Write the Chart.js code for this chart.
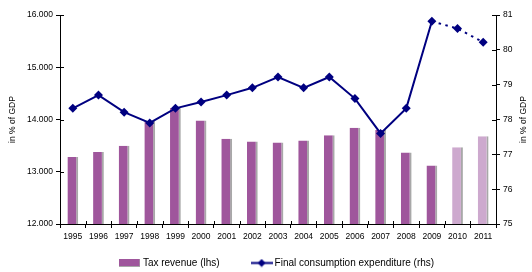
<!DOCTYPE html>
<html>
<head>
<meta charset="utf-8">
<script src="https://cdn.jsdelivr.net/npm/chart.js@4/dist/chart.umd.min.js"></script>
<style>
  html, body { margin: 0; padding: 0; background: #fff; }
  #wrap { width: 532px; height: 272px; position: relative; }
</style>
</head>
<body>
<div id="wrap"><canvas id="c" width="532" height="272"></canvas></div>
<script>
// ---- data ----
const years = ['1995','1996','1997','1998','1999','2000','2001','2002','2003','2004','2005','2006','2007','2008','2009','2010','2011'];
const taxRevenue = [13.28, 13.38, 13.50, 13.97, 14.22, 13.98, 13.63, 13.58, 13.56, 13.60, 13.70, 13.84, 13.80, 13.37, 13.12, 13.47, 13.68];
const consumptionExpenditure = [78.32, 78.70, 78.21, 77.90, 78.32, 78.50, 78.70, 78.91, 79.22, 78.91, 79.22, 78.60, 77.60, 78.32, 80.82, 80.61, 80.22];
const leftTicks = [12, 13, 14, 15, 16];
const rightTicks = [75, 76, 77, 78, 79, 80, 81];
const seriesNames = ['Tax revenue (lhs)', 'Final consumption expenditure (rhs)'];
const axisTitle = 'in % of GDP';
const lastActualYear = '2009';

// ---- styles ----
const FONT = '"Liberation Sans", Arial, sans-serif';
const BAR = '#9F569C';
const BAR_FC = '#CDA9CE';
const BAR_EDGE = '#A8A8A8';
const LINE = '#000080';
const lastActualIdx = years.indexOf(lastActualYear);

// legend icons
function barIcon() {
  const c = document.createElement('canvas'); c.width = 21; c.height = 8;
  const g = c.getContext('2d');
  g.fillStyle = BAR_EDGE; g.fillRect(0, 0, 21, 8);
  g.fillStyle = BAR; g.fillRect(0, 0, 20, 7);
  return c;
}
function lineIcon() {
  const c = document.createElement('canvas'); c.width = 22; c.height = 9;
  const g = c.getContext('2d');
  g.strokeStyle = LINE; g.lineWidth = 2;
  g.beginPath(); g.moveTo(0, 4.5); g.lineTo(22, 4.5); g.stroke();
  g.fillStyle = LINE;
  g.beginPath(); g.moveTo(11, 0.5); g.lineTo(15, 4.5); g.lineTo(11, 8.5); g.lineTo(7, 4.5); g.closePath(); g.fill();
  return c;
}

const LEG_PAD = 34;
const LEG_FONT = 10;

const tweaks = {
  id: 'tweaks',
  afterLayout(chart) {
    const lg = chart.legend;
    if (lg) {
      const ca = chart.chartArea;
      const cx = (ca.left + ca.right) / 2;
      const shift = cx - (lg.left + lg.right) / 2;
      lg.left += shift; lg.right += shift;
      lg.top = 263 - LEG_PAD - LEG_FONT / 2;
      lg.bottom = chart.height;
    }
  },
  afterDraw(chart) {
    const ctx = chart.ctx;
    const x = chart.scales.x, yl = chart.scales.y, yr = chart.scales.y1;
    ctx.save();
    ctx.strokeStyle = '#000'; ctx.lineWidth = 1;
    ctx.beginPath();
    const n = years.length;
    const cw = (x.right - x.left) / n;
    for (let i = 0; i <= n; i++) {
      const px = Math.round(x.left + i * cw) + 0.5;
      ctx.moveTo(px, x.top - 3); ctx.lineTo(px, x.top);
    }
    leftTicks.forEach(v => {
      const py = Math.round(yl.getPixelForValue(v)) + 0.5;
      ctx.moveTo(yl.right, py); ctx.lineTo(yl.right + 4, py);
    });
    rightTicks.forEach(v => {
      const py = Math.round(yr.getPixelForValue(v)) + 0.5;
      ctx.moveTo(yr.left - 4, py); ctx.lineTo(yr.left, py);
    });
    ctx.stroke();
    // right axis title, reading bottom-to-top
    ctx.fillStyle = '#000';
    ctx.font = '8.5px ' + FONT;
    ctx.textAlign = 'center'; ctx.textBaseline = 'middle';
    ctx.translate(524, (yr.top + yr.bottom) / 2);
    ctx.rotate(-Math.PI / 2);
    ctx.fillText(axisTitle, 0, 0);
    ctx.restore();
  }
};

const icons = [barIcon(), lineIcon()];

new Chart(document.getElementById('c'), {
  type: 'bar',
  data: {
    labels: years,
    datasets: [
      {
        type: 'bar',
        label: seriesNames[0],
        data: taxRevenue,
        yAxisID: 'y',
        order: 2,
        backgroundColor: years.map((y, i) => i > lastActualIdx ? BAR_FC : BAR),
        borderColor: BAR_EDGE,
        borderWidth: { top: 0, left: 0, bottom: 0, right: 2 },
        borderSkipped: false,
        categoryPercentage: 1.0,
        barPercentage: 0.42
      },
      {
        type: 'line',
        label: seriesNames[1],
        data: consumptionExpenditure,
        yAxisID: 'y1',
        order: 1,
        borderColor: LINE,
        backgroundColor: LINE,
        borderWidth: 2,
        pointStyle: 'rectRot',
        pointRadius: 4.5,
        pointHoverRadius: 4.5,
        pointBackgroundColor: LINE,
        pointBorderColor: LINE,
        pointBorderWidth: 0,
        tension: 0,
        segment: {
          borderDash: ctx => ctx.p0DataIndex >= lastActualIdx ? [2.5, 4.5] : undefined
        }
      }
    ]
  },
  options: {
    responsive: false,
    animation: false,
    devicePixelRatio: 1,
    layout: { padding: { top: 15, bottom: 0, left: 0, right: 0 } },
    plugins: {
      tooltip: { enabled: false },
      legend: {
        display: true,
        position: 'bottom',
        maxHeight: 20,
        labels: {
          font: { family: FONT, size: LEG_FONT },
          color: '#000',
          padding: LEG_PAD,
          usePointStyle: true,
          pointStyleWidth: 16,
          generateLabels: () => seriesNames.map((t, i) => ({
            text: t, pointStyle: icons[i], datasetIndex: i,
            fillStyle: 'transparent', strokeStyle: 'transparent', lineWidth: 0, hidden: false
          }))
        }
      }
    },
    scales: {
      x: {
        grid: { display: true, drawOnChartArea: false, tickLength: 4, color: '#000', offset: true },
        border: { color: '#000', width: 1 },
        ticks: { font: { family: FONT, size: 8.5 }, color: '#000', padding: 4, maxRotation: 0, autoSkip: false },
        afterFit: s => { s.height = 28; }
      },
      y: {
        position: 'left',
        min: leftTicks[0], max: leftTicks[leftTicks.length - 1],
        grid: { display: true, drawOnChartArea: false, tickLength: 4, color: '#000' },
        border: { color: '#000', width: 1 },
        ticks: { stepSize: 1, font: { family: FONT, size: 8.5 }, color: '#000', padding: 3,
                 callback: v => v.toFixed(3) },
        title: { display: true, text: axisTitle, font: { family: FONT, size: 8.5 }, color: '#000', padding: { top: 8, bottom: 0 } },
        afterFit: s => { s.width = 60; }
      },
      y1: {
        position: 'right',
        min: rightTicks[0], max: rightTicks[rightTicks.length - 1],
        grid: { display: true, drawOnChartArea: false, tickLength: 4, color: '#000' },
        border: { color: '#000', width: 1 },
        ticks: { stepSize: 1, font: { family: FONT, size: 8.5 }, color: '#000', padding: 3 },
        afterFit: s => { s.width = 36; }
      }
    }
  },
  plugins: [tweaks]
});
</script>
</body>
</html>
